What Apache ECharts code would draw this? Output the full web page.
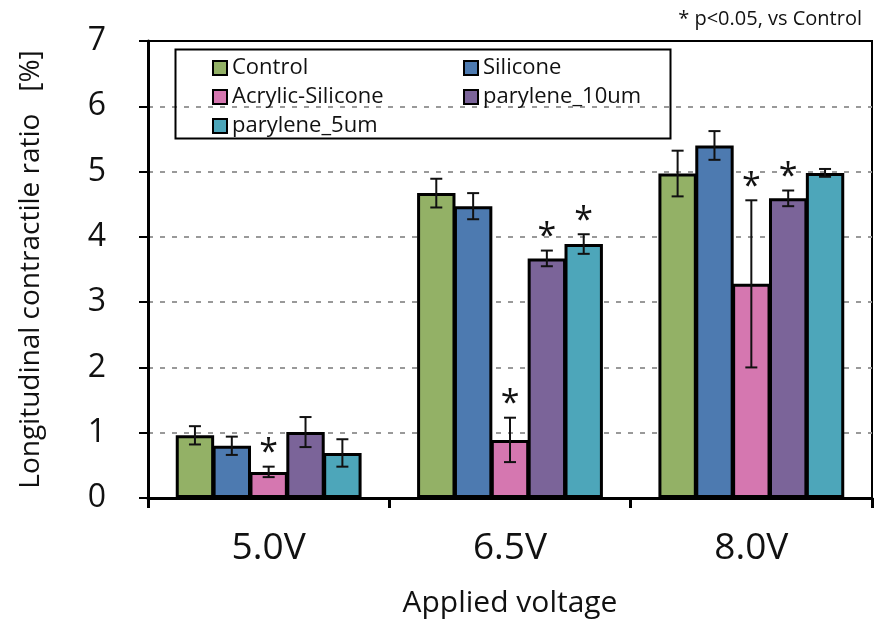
<!DOCTYPE html>
<html>
<head>
<meta charset="utf-8">
<script src="https://cdn.jsdelivr.net/npm/echarts@6/dist/echarts.min.js"></script>
<style>html,body{margin:0;padding:0;background:#fff}#c{width:875px;height:623px}</style>
</head>
<body>
<div id="c"></div>
<script>
const categories = ['5.0V', '6.5V', '8.0V'];
const seriesNames = ['Control', 'Silicone', 'Acrylic-Silicone', 'parylene_10um', 'parylene_5um'];
const control = [0.96, 4.67, 4.97];
const silicone = [0.80, 4.47, 5.40];
const acrylic = [0.40, 0.89, 3.28];
const parylene10 = [1.01, 3.67, 4.59];
const parylene5 = [0.69, 3.89, 4.98];
const controlErr = [0.14, 0.22, 0.35];
const siliconeErr = [0.14, 0.20, 0.22];
const acrylicErr = [0.08, 0.34, 1.28];
const parylene10Err = [0.23, 0.12, 0.12];
const parylene5Err = [0.21, 0.15, 0.06];
const controlSig = [0, 0, 0];
const siliconeSig = [0, 0, 0];
const acrylicSig = [1, 1, 1];
const parylene10Sig = [0, 1, 1];
const parylene5Sig = [0, 1, 0];
const yTicks = [0, 1, 2, 3, 4, 5, 6, 7];

const values = [control, silicone, acrylic, parylene10, parylene5];
const errs = [controlErr, siliconeErr, acrylicErr, parylene10Err, parylene5Err];
const sigs = [controlSig, siliconeSig, acrylicSig, parylene10Sig, parylene5Sig];
const colors = ['#93B166', '#4D7AB0', '#D577B0', '#7B6499', '#4DA6BA'];
const FONT = '"Open Sans", "Noto Sans", sans-serif';
const CAT_GAP = 0.23;
const BAR_GAP = -0.04;

const chart = echarts.init(document.getElementById('c'), null, {renderer: 'canvas'});

const series = seriesNames.map((n, i) => ({
  name: n,
  type: 'bar',
  data: values[i],
  barGap: (BAR_GAP * 100) + '%',
  barCategoryGap: (CAT_GAP * 100) + '%',
  itemStyle: {color: colors[i], borderColor: '#000', borderWidth: 3},
  z: 2
}));

const errData = [];
for (let s = 0; s < 5; s++) {
  for (let c = 0; c < categories.length; c++) {
    errData.push([c, values[s][c], errs[s][c], s, sigs[s][c]]);
  }
}

series.push({
  type: 'custom',
  name: 'err',
  data: errData,
  z: 5,
  silent: true,
  encode: {x: 0, y: 1},
  renderItem: function (params, api) {
    const c = api.value(0), v = api.value(1), e = api.value(2), s = api.value(3), sig = api.value(4);
    const band = api.size([1, 0])[0];
    const avail = band * (1 - CAT_GAP);
    const bw = avail / (5 + 4 * BAR_GAP);
    const step = bw * (1 + BAR_GAP);
    const center = api.coord([c, v]);
    const x = center[0] - avail / 2 + bw / 2 + step * s;
    const top = api.coord([c, v + e])[1];
    const bot = api.coord([c, v - e])[1];
    const cap = 6;
    const st = {stroke: '#111', lineWidth: 2};
    const children = [
      {type: 'line', shape: {x1: x, y1: top, x2: x, y2: bot}, style: st},
      {type: 'line', shape: {x1: x - cap, y1: top, x2: x + cap, y2: top}, style: st},
      {type: 'line', shape: {x1: x - cap, y1: bot, x2: x + cap, y2: bot}, style: st}
    ];
    if (sig) {
      children.push({type: 'text', style: {text: '*', x: x, y: top + 4, align: 'center', verticalAlign: 'bottom', font: '34px ' + FONT, fill: '#111'}});
    }
    return {type: 'group', children: children};
  }
});

chart.setOption({
  animation: false,
  backgroundColor: '#fff',
  title: {
    text: '* p<0.05, vs Control',
    right: 8, top: 4,
    textStyle: {fontFamily: FONT, fontSize: 20, fontWeight: 'normal', color: '#111'}
  },
  grid: {left: 148, right: 3, top: 41, bottom: 124, show: true, borderColor: '#000', borderWidth: 2, containLabel: false},
  legend: [
    {
      data: [seriesNames[0], seriesNames[2], seriesNames[4]],
      orient: 'vertical', left: 207, top: 49,
      itemWidth: 14, itemHeight: 14, itemGap: 1, icon: 'rect',
      textStyle: {fontFamily: FONT, fontSize: 22, color: '#111', lineHeight: 28},
      itemStyle: {borderColor: '#000', borderWidth: 2}
    },
    {
      data: [seriesNames[1], seriesNames[3]],
      orient: 'vertical', left: 458, top: 49,
      itemWidth: 14, itemHeight: 14, itemGap: 1, icon: 'rect',
      textStyle: {fontFamily: FONT, fontSize: 22, color: '#111', lineHeight: 28},
      itemStyle: {borderColor: '#000', borderWidth: 2}
    }
  ],
  graphic: [{
    type: 'rect', left: 173, top: 47, z: 100,
    shape: {width: 495, height: 89},
    style: {fill: 'none', stroke: '#000', lineWidth: 2}
  }],
  xAxis: {
    type: 'category',
    data: categories,
    name: 'Applied voltage',
    nameLocation: 'middle',
    nameGap: 90,
    nameTextStyle: {fontFamily: FONT, fontSize: 30, color: '#111'},
    axisLine: {lineStyle: {color: '#000', width: 3}},
    axisTick: {show: true, alignWithLabel: false, length: 10, lineStyle: {color: '#000', width: 3}},
    axisLabel: {fontFamily: FONT, fontSize: 37, color: '#111', margin: 32},
    splitLine: {show: false}
  },
  yAxis: {
    type: 'value',
    min: yTicks[0], max: yTicks[yTicks.length - 1], interval: 1,
    name: 'Longitudinal contractile ratio   [%]',
    nameLocation: 'middle',
    nameRotate: 90,
    nameGap: 103,
    nameTextStyle: {fontFamily: FONT, fontSize: 28, color: '#111'},
    axisLine: {show: true, lineStyle: {color: '#000', width: 3}},
    axisTick: {show: true, inside: false, length: 9, lineStyle: {color: '#000', width: 2}},
    axisLabel: {fontFamily: FONT, fontSize: 32, color: '#111', margin: 42},
    splitLine: {show: true, showMinLine: false, showMaxLine: false, lineStyle: {color: '#999', width: 2, type: [5, 7]}}
  },
  series: series
});
</script>
</body>
</html>
